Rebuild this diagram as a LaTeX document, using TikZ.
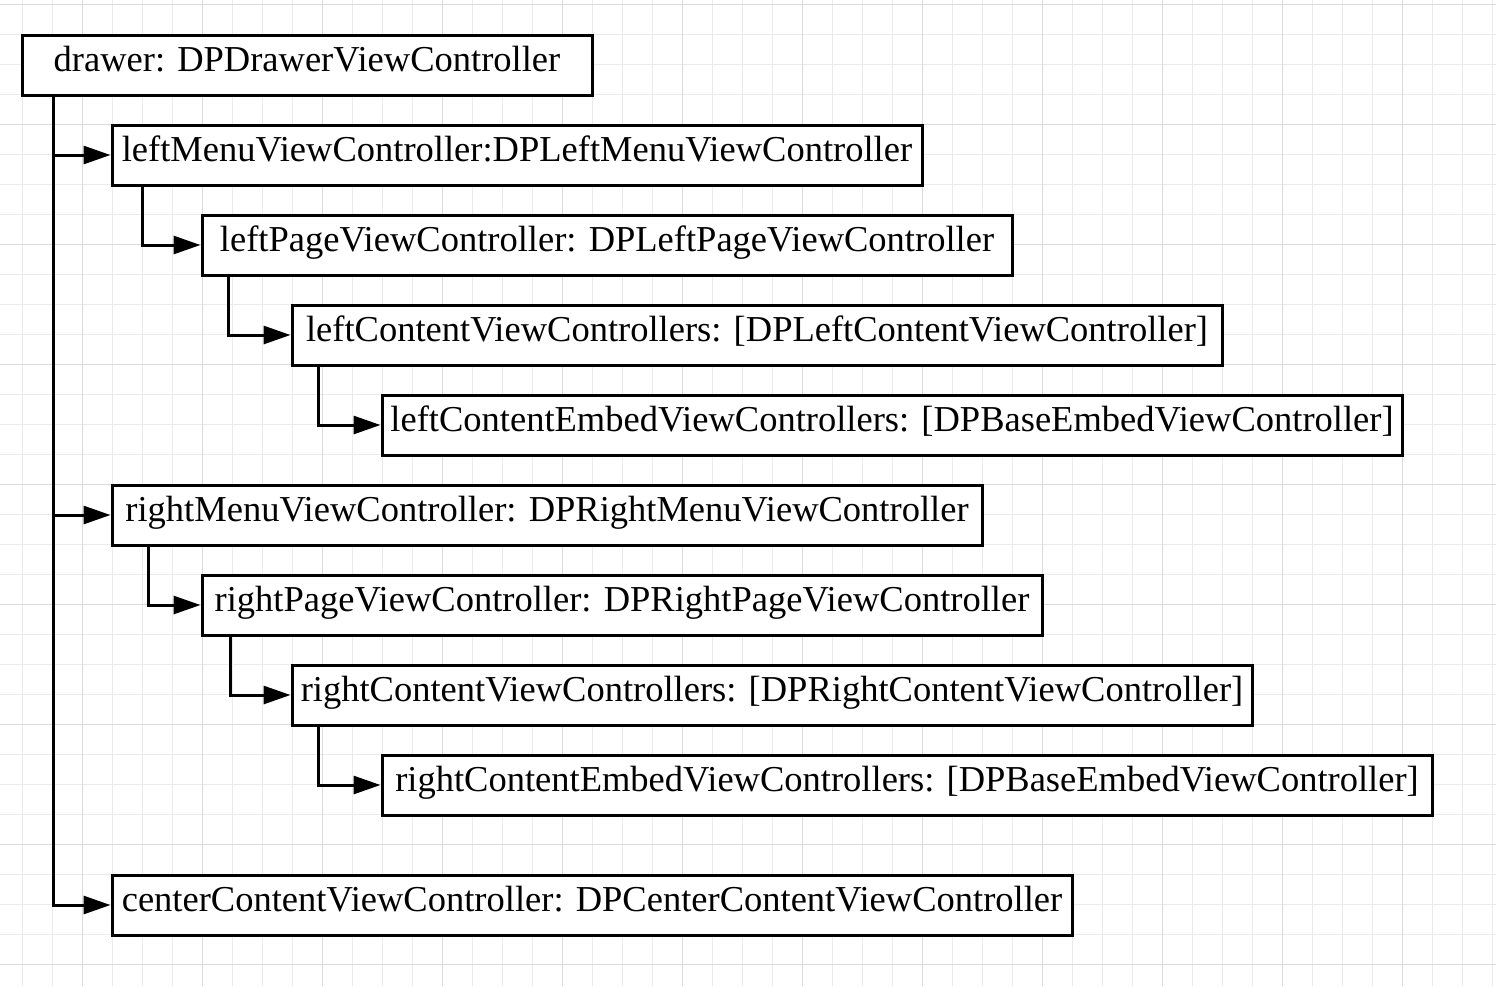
\documentclass[tikz,border=0pt]{standalone}
\usepackage{fontspec}
\setmainfont{Liberation Serif}
\usetikzlibrary{arrows.meta}
\definecolor{gridminor}{HTML}{EBEBEB}
\definecolor{gridmajor}{HTML}{DADADA}
\tikzset{
  minorline/.style={draw=gridminor, line width=1pt},
  majorline/.style={draw=gridmajor, line width=1pt},
  vcbox/.style={draw=black, fill=white, line width=3pt, rectangle, inner sep=0pt,
    text height=36pt, text depth=24pt, anchor=west,
    font=\fontsize{36.5}{40}\selectfont},
  conn/.style={draw=black, line width=3pt, -{Triangle[length=27pt,width=18pt]}}
}
\begin{document}
\begin{tikzpicture}[x=1pt,y=-1pt]
\useasboundingbox (0,0) rectangle (1496,986);
\fill[white] (0,0) rectangle (1496,986);
% grid
\foreach \i in {0,...,49} {\draw[minorline] (22.5+30*\i,0) -- (22.5+30*\i,986);}
\foreach \j in {0,...,32} {\draw[minorline] (0,4+30*\j) -- (1496,4+30*\j);}
\foreach \i in {0,...,12} {\draw[majorline] (82.5+120*\i,0) -- (82.5+120*\i,986);}
\foreach \j in {0,...,8} {\draw[majorline] (0,4+120*\j) -- (1496,4+120*\j);}
% boxes
\node[vcbox, minimum width=570pt] (drawer) at (20.5,65) {drawer: DPDrawerViewController};
\node[vcbox, minimum width=810pt] (lm) at (110.5,155) {leftMenuViewController:DPLeftMenuViewController};
\node[vcbox, minimum width=810pt] (lp) at (200.5,245) {leftPageViewController: DPLeftPageViewController};
\node[vcbox, minimum width=930pt] (lc) at (290.5,335) {leftContentViewControllers: [DPLeftContentViewController]};
\node[vcbox, minimum width=1020pt] (lce) at (380.5,425) {leftContentEmbedViewControllers: [DPBaseEmbedViewController]};
\node[vcbox, minimum width=870pt] (rm) at (110.5,515) {rightMenuViewController: DPRightMenuViewController};
\node[vcbox, minimum width=840pt] (rp) at (200.5,605) {rightPageViewController: DPRightPageViewController};
\node[vcbox, minimum width=960pt] (rc) at (290.5,695) {rightContentViewControllers: [DPRightContentViewController]};
\node[vcbox, minimum width=1050pt] (rce) at (380.5,785) {rightContentEmbedViewControllers: [DPBaseEmbedViewController]};
\node[vcbox, minimum width=960pt] (cc) at (110.5,905) {centerContentViewController: DPCenterContentViewController};
% connectors
\coordinate (t0) at ([xshift=33pt]drawer.south west);
\draw[conn] (t0) |- (lm.west);
\draw[conn] (t0) |- (rm.west);
\draw[conn] (t0) |- (cc.west);
\coordinate (t1) at ([xshift=31.5pt]lm.south west);
\draw[conn] (t1) |- (lp.west);
\coordinate (t2) at ([xshift=27.5pt]lp.south west);
\draw[conn] (t2) |- (lc.west);
\coordinate (t3) at ([xshift=27.5pt]lc.south west);
\draw[conn] (t3) |- (lce.west);
\coordinate (t4) at ([xshift=37.5pt]rm.south west);
\draw[conn] (t4) |- (rp.west);
\coordinate (t5) at ([xshift=29.5pt]rp.south west);
\draw[conn] (t5) |- (rc.west);
\coordinate (t6) at ([xshift=27.5pt]rc.south west);
\draw[conn] (t6) |- (rce.west);
\end{tikzpicture}
\end{document}
